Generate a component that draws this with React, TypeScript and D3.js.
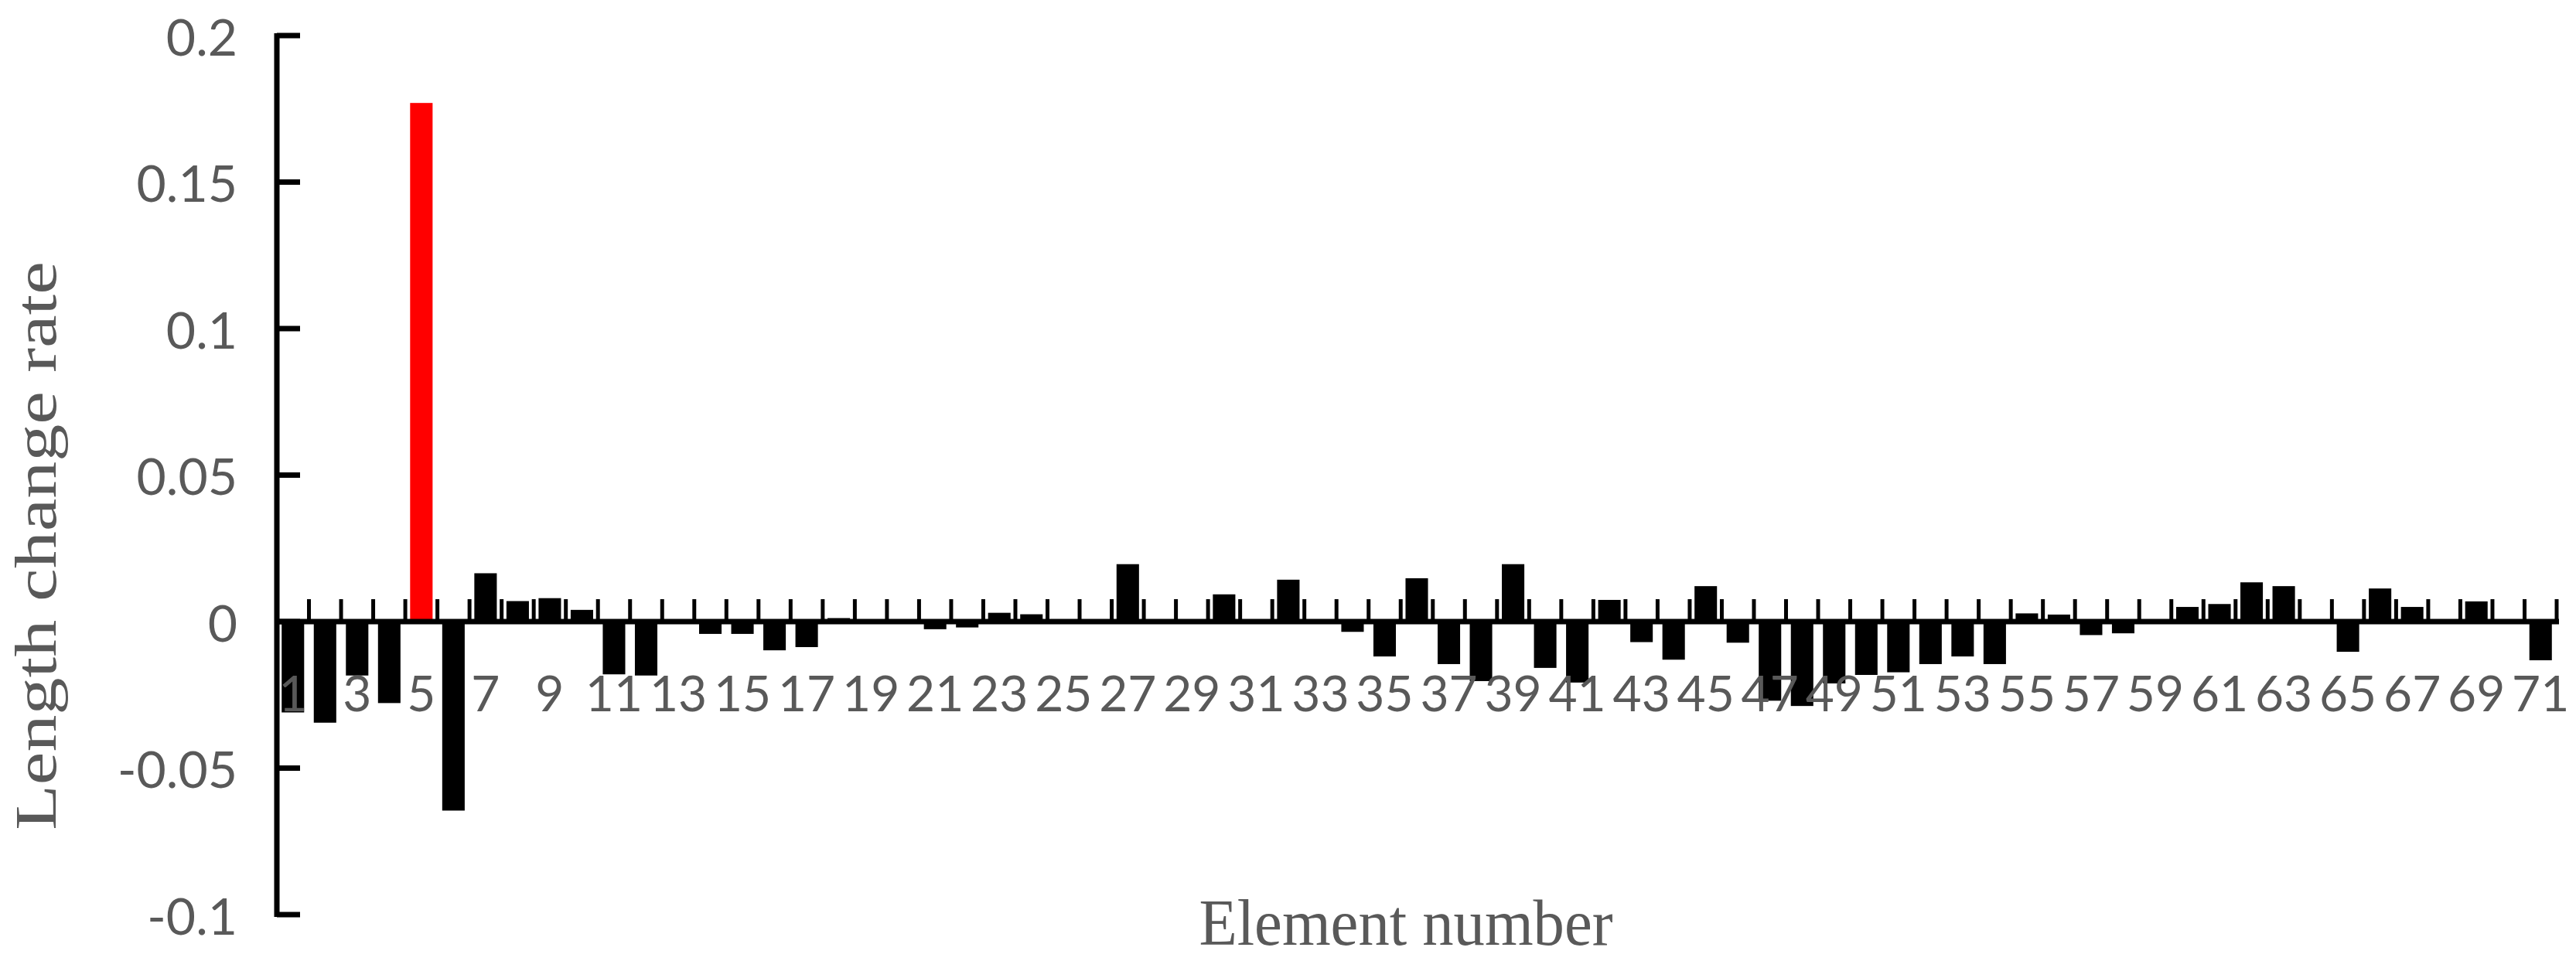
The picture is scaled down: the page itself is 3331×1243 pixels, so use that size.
import React from "react";
import * as d3 from "d3";

const elements: number[] = Array.from({ length: 71 }, (_, i) => i + 1);

const lengthChangeRate: number[] = [
  -0.031, -0.0345, -0.0184, -0.0278, 0.177, -0.0645, 0.0165, 0.007, 0.008, 0.004,
  -0.018, -0.0184, 0, -0.0042, -0.0042, -0.0098, -0.0087, 0.0012, 0, 0,
  -0.0026, -0.002, 0.003, 0.0025, 0, 0, 0.0196, 0, 0, 0.0093,
  0, 0.0143, 0, -0.0035, -0.0119, 0.0148, -0.0145, -0.0203, 0.0196, -0.0158,
  -0.0208, 0.0074, -0.007, -0.013, 0.0121, -0.0072, -0.027, -0.0288, -0.0211, -0.0182,
  -0.0173, -0.0145, -0.0119, -0.0145, 0.0028, 0.0024, -0.0046, -0.004, 0, 0.005,
  0.006, 0.0134, 0.0121, 0, -0.0103, 0.0113, 0.005, 0, 0.0069, 0,
  -0.0132,
];

const highlighted: number[] = [5];

const yTicks: number[] = [-0.1, -0.05, 0, 0.05, 0.1, 0.15, 0.2];
const yTickLabels: string[] = ["-0.1", "-0.05", "0", "0.05", "0.1", "0.15", "0.2"];
const xTickLabels: number[] = elements.filter((e) => e % 2 === 1);

const W = 3331;
const H = 1243;
const left = 358;
const right = 3306;
const top = 46;
const bottom = 1183;

export default function App() {
  const x = d3
    .scaleBand<number>()
    .domain(elements)
    .range([left, right])
    .paddingInner(0.3)
    .paddingOuter(0.15);
  const y = d3.scaleLinear().domain([-0.1, 0.2]).range([bottom, top]);
  const y0 = y(0);
  // category boundary positions (between bars)
  const bounds = d3.range(1, elements.length + 1).map((k) => left + ((right - left) / elements.length) * k);

  const textColor = "#595959";

  return (
    <div style={{ position: "absolute", left: 0, top: 0 }}>
      <svg width={W} height={H} style={{ display: "block", background: "#fff" }}>
        {/* bars */}
        {elements.map((e, i) => {
          const v = lengthChangeRate[i];
          if (v === 0) return null;
          const yv = y(v);
          return (
            <rect
              key={e}
              x={x(e)}
              width={x.bandwidth()}
              y={Math.min(yv, y0)}
              height={Math.abs(yv - y0)}
              fill={highlighted.includes(e) ? "#FF0000" : "#000000"}
            />
          );
        })}

        {/* x axis (zero line) with ticks */}
        <line x1={left} x2={right + 3} y1={y0} y2={y0} stroke="#000" strokeWidth={7} />
        {bounds.map((bx, k) => (
          <line key={k} x1={bx} x2={bx} y1={y0} y2={y0 - 29} stroke="#000" strokeWidth={5} />
        ))}

        {/* y axis */}
        <line x1={left} x2={left} y1={top - 3} y2={bottom + 3} stroke="#000" strokeWidth={7} />
        {yTicks.map((t) => (
          <line key={t} x1={left} x2={left + 30} y1={y(t)} y2={y(t)} stroke="#000" strokeWidth={7} />
        ))}
        {yTicks.map((t, i) => (
          <text
            key={"l" + t}
            x={307}
            y={y(t)}
            textAnchor="end"
            dominantBaseline="central"
            fontFamily="Lato, 'Open Sans', sans-serif"
            fontSize={66}
            fill={textColor}
          >
            {yTickLabels[i]}
          </text>
        ))}

        {/* x tick labels */}
        {xTickLabels.map((e) => (
          <text
            key={"x" + e}
            x={(x(e) as number) + x.bandwidth() / 2}
            y={920}
            textAnchor="middle"
            fontFamily="Lato, 'Open Sans', sans-serif"
            fontSize={64}
            fill={textColor}
          >
            {e}
          </text>
        ))}

        {/* axis titles */}
        <text
          transform="translate(1818, 1222) scale(0.96, 1)"
          textAnchor="middle"
          fontFamily="'Liberation Serif', 'DejaVu Serif', serif"
          fontSize={84}
          fill={textColor}
        >
          Element number
        </text>
        <text
          transform={`translate(72, 706) rotate(-90) scale(1, 0.8)`}
          textAnchor="middle"
          fontFamily="'Liberation Serif', 'DejaVu Serif', serif"
          fontSize={96}
          fill={textColor}
        >
          Length change rate
        </text>
      </svg>
    </div>
  );
}
